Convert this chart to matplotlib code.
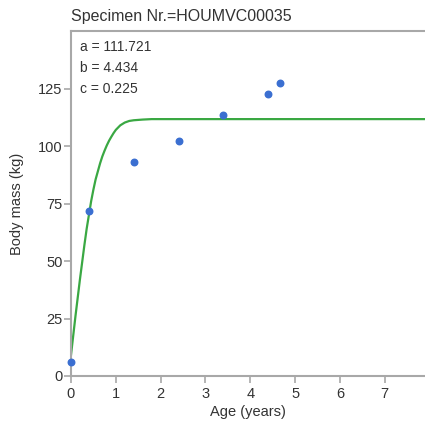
import matplotlib
matplotlib.use("Agg")
import matplotlib.pyplot as plt

plt.rcParams['font.family'] = ['Liberation Sans', 'DejaVu Sans']

# observed specimen measurements
age = [0.0, 0.4, 1.4, 2.4, 3.4, 4.4, 4.67]
mass = [6.0, 71.7, 93.0, 102.0, 113.3, 122.5, 127.3]

# fitted growth curve
curve_age = [0.0, 0.1, 0.2, 0.3, 0.35, 0.4, 0.45, 0.5, 0.55, 0.6, 0.65,
             0.7, 0.75, 0.8, 0.85, 0.9, 0.95, 1.0, 1.1, 1.2, 1.3, 1.4,
             1.6, 1.8, 2.0, 3.0, 8.0]
curve_mass = [9.0, 26.0, 42.0, 57.0, 64.0, 70.0, 76.0, 81.0, 85.5, 89.0,
              92.5, 95.5, 98.0, 100.3, 102.3, 104.0, 105.6, 107.0, 109.0,
              110.2, 110.9, 111.2, 111.5, 111.7, 111.7, 111.7, 111.7]

params = ['a = 111.721', 'b = 4.434', 'c = 0.225']
xticks = [0, 1, 2, 3, 4, 5, 6, 7]
yticks = [0, 25, 50, 75, 100, 125]

grey = '#a8a8a8'
text_col = '#333333'

fig = plt.figure(figsize=(4.25, 4.28), dpi=100)
ax = fig.add_axes([0.167, 0.1215, 0.833, 0.806])

ax.plot(curve_age, curve_mass, color='#3aa843', lw=1.6, zorder=2)
ax.scatter(age, mass, s=22, color='#3b6fd1', zorder=3, clip_on=False)

ax.set_xlim(0, 7.9)
ax.set_ylim(0, 150)
ax.set_xticks(xticks)
ax.set_yticks(yticks)

for side in ['left', 'bottom', 'top']:
    ax.spines[side].set_color(grey)
    ax.spines[side].set_linewidth(1.5)
ax.spines['right'].set_visible(False)
ax.tick_params(colors=grey, labelcolor=text_col, labelsize=10.5,
               length=5, width=1.2, direction='out', pad=1)
ax.tick_params(axis='x', pad=3)

ax.set_xlabel('Age (years)', fontsize=10.5, color=text_col, labelpad=3)
ax.set_ylabel('Body mass (kg)', fontsize=10.5, color=text_col, labelpad=10)

for i, p in enumerate(params):
    ax.text(0.025, 0.975 - i * 0.062, p, transform=ax.transAxes,
            fontsize=10, color=text_col, va='top', ha='left')

fig.text(0.167, 0.962, 'Specimen Nr.=HOUMVC00035', fontsize=11.5,
         color=text_col, ha='left', va='center')

fig.savefig('out.png', dpi=100)
